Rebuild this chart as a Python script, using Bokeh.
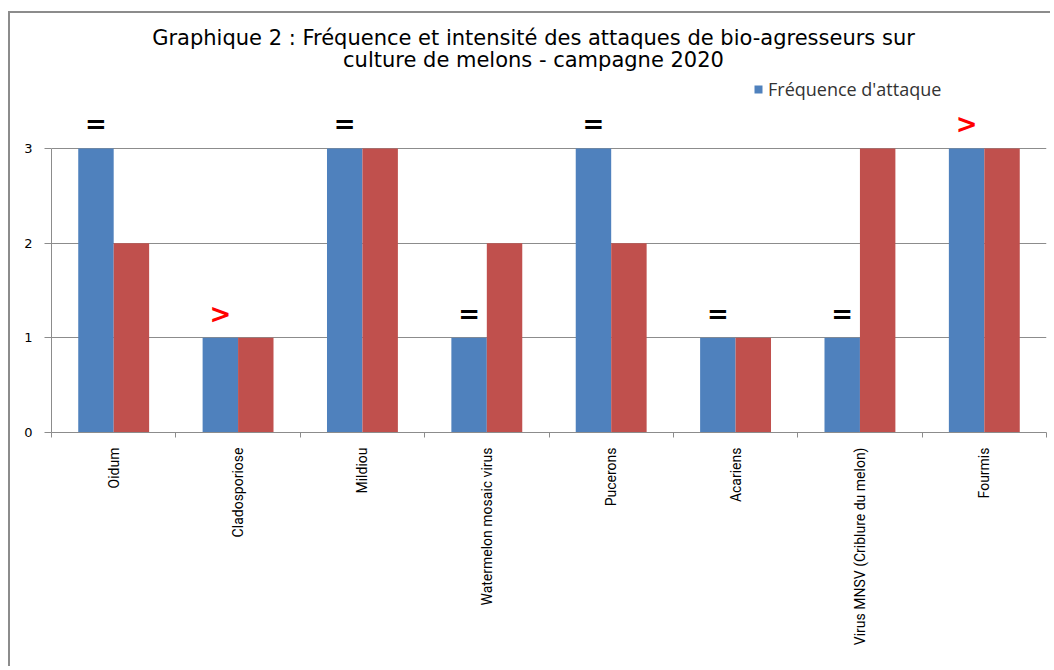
import math
from bokeh.plotting import figure
from bokeh.models import FixedTicker, Legend, LegendItem, Label, ColumnDataSource
from bokeh.transform import dodge
from bokeh.core.properties import value
from bokeh.embed import file_html
from bokeh.resources import INLINE

# ---------------- data ----------------
categories = ["Oidum", "Cladosporiose", "Mildiou", "Watermelon mosaic virus",
              "Pucerons", "Acariens", "Virus MNSV (Criblure du melon)", "Fourmis"]
frequence = [3, 1, 3, 1, 3, 1, 1, 3]
intensite = [2, 1, 3, 2, 2, 1, 3, 3]
symbols = ["=", ">", "=", "=", "=", "=", "=", ">"]
symbol_colors = ["#000000", "#FF0000", "#000000", "#000000",
                 "#000000", "#000000", "#000000", "#FF0000"]
y_ticks = [0, 1, 2, 3]
title_lines = ["Graphique 2 : Fréquence et intensité des attaques de bio-agresseurs sur",
               "culture de melons - campagne 2020"]
legend_label = "Fréquence d'attaque"

BLUE = "#4F81BD"
RED = "#C0504D"
GRID = "#8C8C8C"

n = len(categories)
centers = [i + 0.5 for i in range(n)]
src = ColumnDataSource(dict(x=centers, freq=frequence, inten=intensite,
                            sym=symbols, symc=symbol_colors))

p = figure(width=1042, height=655, output_backend="svg", toolbar_location=None,
           x_range=(0, n), y_range=(0, 4.426),
           min_border_left=41, min_border_right=6, min_border_top=0, min_border_bottom=236)
p.outline_line_color = None
p.background_fill_color = "white"
p.border_fill_color = "white"
p.styles = {"margin-left": "8px", "margin-top": "11px",
            "border-top": "2px solid #8C8C8C", "border-left": "2px solid #8C8C8C"}

bw = 0.285
r_blue = p.vbar(x=dodge("x", -bw / 2, range=p.x_range), top="freq", width=bw, bottom=0,
                source=src, fill_color=BLUE, line_color=None)
r_red = p.vbar(x=dodge("x", bw / 2, range=p.x_range), top="inten", width=bw, bottom=0,
               source=src, fill_color=RED, line_color=None)

p.text(x=dodge("x", -bw / 2, range=p.x_range), y="freq", text="sym", source=src,
       text_color="symc", text_font=value("DejaVu Sans"), text_font_style="bold",
       text_font_size="26px", text_align="center", text_baseline="middle", y_offset=-24)

# axes
xa = p.xaxis[0]
xa.ticker = FixedTicker(ticks=centers, minor_ticks=list(range(n + 1)))
xa.major_label_overrides = {c: lab for c, lab in zip(centers, categories)}
xa.major_label_orientation = math.pi / 2
xa.major_tick_out = 0
xa.major_tick_in = 0
xa.minor_tick_out = 5
xa.minor_tick_in = 0
xa.minor_tick_line_color = GRID
xa.axis_line_color = GRID
xa.bounds = (0, n)
xa.major_label_standoff = 10
xa.major_label_text_font = "Roboto"
xa.major_label_text_font_size = "14px"
xa.major_label_text_color = "#000000"

ya = p.yaxis[0]
ya.ticker = FixedTicker(ticks=y_ticks, minor_ticks=[])
ya.bounds = (0, 3)
ya.axis_line_color = GRID
ya.major_tick_line_color = GRID
ya.major_tick_out = 7
ya.major_tick_in = 0
ya.minor_tick_out = 0
ya.minor_tick_in = 0
ya.major_label_standoff = 12
ya.major_label_text_font = "DejaVu Sans"
ya.major_label_text_font_size = "13px"
ya.major_label_text_color = "#000000"

p.xgrid.grid_line_color = None
p.ygrid.grid_line_color = GRID
p.ygrid.grid_line_width = 1

# title
for i, line in enumerate(title_lines):
    p.add_layout(Label(x=482, y=395 - 22 * i, x_units="screen", y_units="screen",
                       text=line, text_align="center", text_baseline="alphabetic",
                       text_font="DejaVu Sans", text_font_size="21px", text_color="#000000"))

legend = Legend(items=[LegendItem(label=legend_label, renderers=[r_blue])],
                location=(702, 331), orientation="horizontal",
                padding=0, margin=0, border_line_color=None, background_fill_alpha=0,
                glyph_width=10, glyph_height=10, label_standoff=5,
                label_text_font="Open Sans", label_text_font_size="18px",
                label_text_color="#333333", label_height=16)
p.add_layout(legend)

open("out.html", "w").write(file_html(p, INLINE))
